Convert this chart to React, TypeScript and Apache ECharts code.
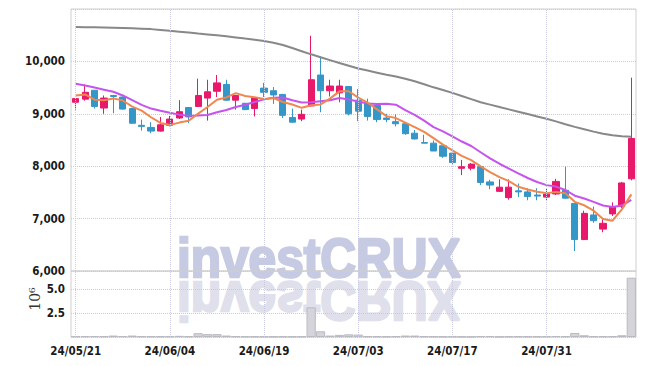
import { useEffect, useRef } from 'react';
import * as echarts from 'echarts';

const dates = [
  '24/05/21','24/05/22','24/05/23','24/05/24','24/05/27','24/05/28','24/05/29','24/05/30','24/05/31',
  '24/06/03','24/06/04','24/06/05','24/06/07','24/06/10','24/06/11','24/06/12','24/06/13','24/06/14','24/06/17','24/06/18','24/06/19','24/06/20','24/06/21','24/06/24','24/06/25','24/06/26','24/06/27','24/06/28',
  '24/07/01','24/07/02','24/07/03','24/07/04','24/07/05','24/07/08','24/07/09','24/07/10','24/07/11','24/07/12','24/07/15','24/07/16','24/07/17','24/07/18','24/07/19','24/07/22','24/07/23','24/07/24','24/07/25','24/07/26','24/07/29','24/07/30','24/07/31',
  '24/08/01','24/08/02','24/08/05','24/08/06','24/08/07','24/08/08','24/08/09','24/08/12','24/08/13',
];

const opens = [
  9220, 9280, 9450, 9110, 9350, 9320, 9100, 8780, 8740, 8670,
  8780, 8920, 9120, 9140, 9300, 9430, 9560, 9260, 9200, 9100,
  9490, 9440, 9370, 8930, 8900, 9150, 9740, 9440, 9400, 9520,
  9260, 9200, 9160, 8920, 8850, 8810, 8630, 8450, 8440, 8390,
  8250, 7960, 7960, 7990, 7700, 7520, 7400, 7530, 7510, 7450,
  7410, 7470, 7540, 7290, 6600, 7070, 6800, 7090, 7230, 7760,
];
const closes = [
  9290, 9410, 9140, 9300, 9330, 9090, 8820, 8760, 8670, 8790,
  8900, 9040, 8940, 9350, 9420, 9590, 9260, 9350, 9080, 9310,
  9410, 9360, 8970, 8840, 8990, 9650, 9440, 9530, 9530, 9000,
  9050, 8950, 8890, 8890, 8810, 8620, 8520, 8440, 8290, 8190,
  8070, 7990, 8040, 7690, 7640, 7600, 7600, 7510, 7420, 7430,
  7470, 7710, 7390, 6600, 7100, 6960, 6910, 7230, 7680, 8530,
];
const lows = [
  9080, 9250, 9100, 9000, 9010, 9080, 8810, 8680, 8630, 8660,
  8760, 8900, 8820, 9130, 8870, 9320, 9250, 9080, 9070, 8950,
  9320, 9190, 8920, 8830, 8860, 9140, 9030, 9330, 9220, 8970,
  8860, 8870, 8840, 8840, 8760, 8600, 8510, 8440, 8290, 8160,
  8020, 7830, 7920, 7640, 7560, 7510, 7360, 7410, 7350, 7350,
  7350, 7450, 7380, 6380, 6590, 6920, 6740, 7050, 7200, 7730,
];
const highs = [
  9300, 9560, 9450, 9350, 9360, 9330, 9100, 8890, 8840, 8940,
  8960, 9260, 9120, 9670, 9650, 9740, 9650, 9360, 9210, 9320,
  9590, 9510, 9380, 9100, 9080, 10490, 10090, 9650, 9650, 9530,
  9470, 9290, 9170, 9000, 8990, 8820, 8690, 8600, 8490, 8390,
  8260, 8120, 8060, 8000, 7740, 7750, 7750, 7670, 7580, 7580,
  7570, 7760, 7990, 7300, 7150, 7230, 6990, 7310, 7700, 9690,
];

// moving-average lines
const ma5 = [
  9350, 9370, 9270, 9260, 9294, 9254, 9136, 9060, 8934, 8826,
  8788, 8832, 8868, 9004, 9130, 9268, 9312, 9394, 9340, 9318,
  9282, 9302, 9226, 9178, 9114, 9162, 9178, 9290, 9428, 9430,
  9310, 9212, 9084, 8956, 8918, 8832, 8746, 8656, 8536, 8412,
  8302, 8196, 8116, 7996, 7886, 7792, 7714, 7608, 7554, 7512,
  7486, 7508, 7484, 7320, 7254, 7152, 6992, 6960, 7176, 7462,
];
const ma10 = [
  9575, 9540, 9500, 9460, 9420, 9350, 9260, 9170, 9100, 9060,
  9021, 8984, 8964, 8969, 8978, 9028, 9072, 9131, 9172, 9224,
  9275, 9307, 9310, 9259, 9216, 9222, 9240, 9258, 9303, 9272,
  9236, 9195, 9187, 9192, 9174, 9071, 8979, 8870, 8746, 8665,
  8567, 8471, 8386, 8266, 8149, 8047, 7955, 7862, 7775, 7699,
  7639, 7611, 7546, 7437, 7383, 7319, 7250, 7222, 7248, 7358,
];
const maLong = [
  10655, 10652, 10650, 10647, 10643, 10638, 10632, 10625, 10616, 10600,
  10583, 10567, 10550, 10532, 10515, 10497, 10478, 10458, 10436, 10415,
  10390, 10355, 10313, 10255, 10195, 10135, 10080, 10025, 9970, 9918,
  9865, 9825, 9785, 9745, 9710, 9670, 9620, 9565, 9505, 9455,
  9400, 9340, 9280, 9220, 9175, 9130, 9085, 9040, 8995, 8950,
  8905, 8855, 8800, 8750, 8705, 8660, 8620, 8590, 8570, 8560,
];

// volume in millions of shares
const volumes = [
  0.08, 0.10, 0.10, 0.08, 0.15, 0.10, 0.15, 0.08, 0.08, 0.07,
  0.08, 0.12, 0.08, 0.40, 0.30, 0.30, 0.15, 0.08, 0.06, 0.06,
  0.06, 0.05, 0.06, 0.05, 0.06, 3.10, 0.60, 0.15, 0.22, 0.28,
  0.25, 0.08, 0.07, 0.06, 0.08, 0.15, 0.15, 0.08, 0.06, 0.05,
  0.06, 0.04, 0.03, 0.10, 0.10, 0.03, 0.06, 0.07, 0.06, 0.06,
  0.07, 0.10, 0.08, 0.42, 0.18, 0.08, 0.07, 0.08, 0.18, 6.20,
];

const labelDates = ['24/05/21', '24/06/04', '24/06/19', '24/07/03', '24/07/17', '24/07/31'];

const UP = '#e8196a';
const DOWN = '#3596c8';
const GRIDC = '#c9c9df';
const FONT = '"DejaVu Sans Condensed", "Liberation Sans", sans-serif';

export default function App() {
  const ref = useRef<HTMLDivElement>(null);
  useEffect(() => {
    const chart = echarts.init(ref.current!, null, { renderer: 'svg' });
    const vLines = {
      silent: true,
      symbol: 'none',
      label: { show: false },
      lineStyle: { color: GRIDC, type: 'dotted', width: 1 },
      data: labelDates.map((d) => ({ xAxis: d })),
    };
    const wm = {
      text: 'investCRUX',
      fontFamily: '"Liberation Sans", Arial, sans-serif',
      fontWeight: 'bold',
      fontSize: 56,
      textVerticalAlign: 'bottom',
      lineWidth: 2.5,
    };
    const lbl = { color: '#1a1a1a', fontSize: 11.5, fontWeight: 'bold', fontFamily: FONT };
    chart.setOption({
      animation: false,
      backgroundColor: '#ffffff',
      graphic: [
        {
          type: 'text', x: 177, y: 285, scaleX: 0.885, z: -10,
          style: { ...wm, fill: '#c6cae3', stroke: '#c6cae3' },
        },
        {
          type: 'text', x: 177, y: 274, scaleX: 0.885, scaleY: -1, z: -10,
          style: { ...wm, fill: '#dfe0eb', stroke: '#dfe0eb' },
        },
        {
          type: 'text', x: 35, y: 299, rotation: Math.PI / 2, z: 5,
          style: {
            text: '10\u2076', fill: '#333', fontSize: 14, fontFamily: '"DejaVu Serif", serif',
            textAlign: 'center', textVerticalAlign: 'middle',
          },
        },
      ],
      grid: [
        { left: 71, top: 9, width: 565, height: 262, show: true, borderColor: '#cfcfcf', borderWidth: 1, backgroundColor: 'transparent' },
        { left: 71, top: 271, width: 565, height: 66, show: true, borderColor: '#cfcfcf', borderWidth: 1, backgroundColor: 'transparent' },
      ],
      xAxis: [
        {
          type: 'category', gridIndex: 0, data: dates, boundaryGap: true,
          axisLine: { show: false }, axisTick: { show: false }, axisLabel: { show: false }, splitLine: { show: false },
        },
        {
          type: 'category', gridIndex: 1, data: dates, boundaryGap: true,
          axisLine: { show: false }, axisTick: { show: false }, splitLine: { show: false },
          axisLabel: { interval: 9, margin: 8, ...lbl },
        },
      ],
      yAxis: [
        {
          type: 'value', gridIndex: 0, min: 6000, max: 11000, interval: 1000,
          axisLine: { show: false }, axisTick: { show: false },
          axisLabel: {
            showMaxLabel: false, margin: 6, ...lbl,
            formatter: (v: number) => v.toLocaleString('en-US'),
          },
          splitLine: { lineStyle: { color: GRIDC, type: 'dotted' } },
        },
        {
          type: 'value', gridIndex: 1, min: 0, max: 6.9, interval: 2.5,
          axisLine: { show: false }, axisTick: { show: false },
          axisLabel: {
            showMinLabel: false, showMaxLabel: false, margin: 6, ...lbl,
            formatter: (v: number) => v.toFixed(1),
          },
          splitLine: { lineStyle: { color: GRIDC, type: 'dotted' } },
        },
      ],
      series: [
        {
          type: 'candlestick', xAxisIndex: 0, yAxisIndex: 0,
          data: dates.map((_, i) => [opens[i], closes[i], lows[i], highs[i]]),
          barWidth: '70%',
          itemStyle: { color: UP, color0: DOWN, borderColor: UP, borderColor0: DOWN, borderWidth: 1 },
          markLine: vLines,
        },
        {
          type: 'line', xAxisIndex: 0, yAxisIndex: 0, data: maLong, symbol: 'none',
          lineStyle: { color: '#888888', width: 2 }, z: 3,
        },
        {
          type: 'line', xAxisIndex: 0, yAxisIndex: 0, data: ma10, symbol: 'none',
          lineStyle: { color: '#c653ee', width: 2 }, z: 3,
        },
        {
          type: 'line', xAxisIndex: 0, yAxisIndex: 0, data: ma5, symbol: 'none',
          lineStyle: { color: '#ef874f', width: 2 }, z: 4,
        },
        {
          type: 'bar', xAxisIndex: 1, yAxisIndex: 1, data: volumes, barCategoryGap: '2%',
          itemStyle: { color: '#d4d4da', borderColor: '#b9b9c2', borderWidth: 1 },
          markLine: vLines,
        },
      ],
    });
    return () => chart.dispose();
  }, []);
  return <div ref={ref} style={{ position: 'fixed', left: 0, top: 0, width: 645, height: 366 }} />;
}
